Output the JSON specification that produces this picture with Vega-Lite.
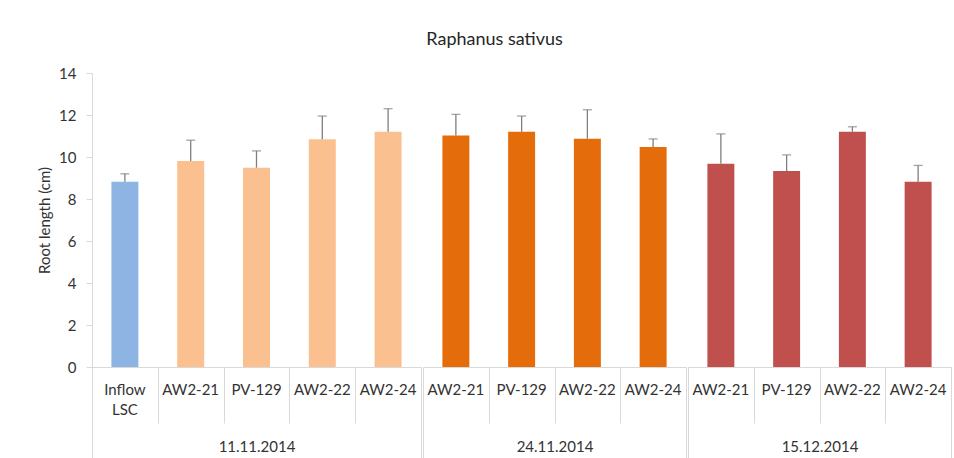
{
  "$schema": "https://vega.github.io/schema/vega-lite/v6.json",
  "padding": {"left": 37, "top": 31, "right": 5, "bottom": 0},
  "title": {"text": "Raphanus sativus", "anchor": "middle", "frame": "bounds", "fontSize": 18, "font": "Lato", "fontWeight": "normal", "color": "#262626", "offset": 17},
  "config": {
    "view": {"stroke": null},
    "font": "Lato",
    "axis": {"labelFont": "Lato", "titleFont": "Lato", "labelFontSize": 15, "titleFontSize": 15, "labelColor": "#333333", "titleColor": "#333333", "titleFontWeight": "normal", "grid": false}
  },
  "spacing": 0,
  "data": {"values": [
    {"group": "11.11.2014", "name": "Inflow LSC", "series": "Inflow", "mean": 8.82, "upper": 9.2},
    {"group": "11.11.2014", "name": "AW2-21", "series": "11.11.2014", "mean": 9.81, "upper": 10.8},
    {"group": "11.11.2014", "name": "PV-129", "series": "11.11.2014", "mean": 9.49, "upper": 10.29},
    {"group": "11.11.2014", "name": "AW2-22", "series": "11.11.2014", "mean": 10.84, "upper": 11.95},
    {"group": "11.11.2014", "name": "AW2-24", "series": "11.11.2014", "mean": 11.2, "upper": 12.3},
    {"group": "24.11.2014", "name": "AW2-21", "series": "24.11.2014", "mean": 11.02, "upper": 12.03},
    {"group": "24.11.2014", "name": "PV-129", "series": "24.11.2014", "mean": 11.2, "upper": 11.95},
    {"group": "24.11.2014", "name": "AW2-22", "series": "24.11.2014", "mean": 10.87, "upper": 12.25},
    {"group": "24.11.2014", "name": "AW2-24", "series": "24.11.2014", "mean": 10.48, "upper": 10.86},
    {"group": "15.12.2014", "name": "AW2-21", "series": "15.12.2014", "mean": 9.68, "upper": 11.1},
    {"group": "15.12.2014", "name": "PV-129", "series": "15.12.2014", "mean": 9.33, "upper": 10.1},
    {"group": "15.12.2014", "name": "AW2-22", "series": "15.12.2014", "mean": 11.2, "upper": 11.44},
    {"group": "15.12.2014", "name": "AW2-24", "series": "15.12.2014", "mean": 8.82, "upper": 9.6}
  ]},
  "resolve": {"scale": {"y": "shared", "color": "shared"}},
  "hconcat": [
    {
      "width": 329, "height": 294,
      "transform": [{"filter": "datum.group == '11.11.2014'"}],
      "resolve": {"axis": {"x": "independent"}},
      "layer": [
        {
          "mark": {"type": "bar", "width": {"band": 0.41}},
          "encoding": {
            "x": {"field": "name", "type": "nominal", "sort": null, "scale": {"paddingInner": 0, "paddingOuter": 0},
              "axis": {"orient": "bottom", "title": null, "ticks": false, "domain": true, "domainColor": "#d9d9d9", "labelAngle": 0, "labelPadding": 15, "labelLineHeight": 20, "labelExpr": "datum.label == 'Inflow LSC' ? ['Inflow', 'LSC'] : datum.label"}},
            "y": {"field": "mean", "type": "quantitative", "scale": {"domain": [0, 14]},
              "axis": {"title": "Root length (cm)", "values": [0, 2, 4, 6, 8, 10, 12, 14], "domainColor": "#d9d9d9", "tickColor": "#d9d9d9", "tickSize": 6, "labelPadding": 10, "titlePadding": 6}},
            "color": {"field": "series", "type": "nominal", "scale": {"domain": ["Inflow", "11.11.2014", "24.11.2014", "15.12.2014"], "range": ["#8DB4E2", "#FAC090", "#E46C0A", "#C0504D"]}, "legend": null}
          }
        },
        {
          "mark": {"type": "rule", "color": "#7f7f7f", "strokeWidth": 1.3},
          "encoding": {
            "x": {"field": "name", "type": "nominal", "sort": null,
              "axis": {"orient": "bottom", "title": null, "labels": false, "domain": false, "ticks": true, "tickBand": "extent", "tickSize": 56, "tickColor": "#d9d9d9"}},
            "y": {"field": "mean", "type": "quantitative",
              "axis": {"title": "Root length (cm)", "values": [0, 2, 4, 6, 8, 10, 12, 14], "domainColor": "#d9d9d9", "tickColor": "#d9d9d9", "tickSize": 6, "labelPadding": 10, "titlePadding": 6}},
            "y2": {"field": "upper"}
          }
        },
        {
          "mark": {"type": "tick", "color": "#7f7f7f", "thickness": 1.3, "size": 9},
          "encoding": {
            "x": {"field": "name", "type": "nominal", "sort": null,
              "axis": {"orient": "bottom", "title": "11.11.2014", "titleY": 79, "titleBaseline": "middle", "labels": false, "domain": false, "ticks": true, "tickBand": "extent", "tickSize": 92, "tickColor": "#d9d9d9",
                "tickOpacity": {"condition": {"test": "datum.index < 0 || datum.index == 1", "value": 1}, "value": 0}}},
            "y": {"field": "upper", "type": "quantitative",
              "axis": {"title": "Root length (cm)", "values": [0, 2, 4, 6, 8, 10, 12, 14], "domainColor": "#d9d9d9", "tickColor": "#d9d9d9", "tickSize": 6, "labelPadding": 10, "titlePadding": 6}}
          }
        }
      ]
    },
    {
      "width": 263, "height": 294,
      "transform": [{"filter": "datum.group == '24.11.2014'"}],
      "resolve": {"axis": {"x": "independent"}},
      "layer": [
        {
          "mark": {"type": "bar", "width": {"band": 0.41}},
          "encoding": {
            "x": {"field": "name", "type": "nominal", "sort": null, "scale": {"paddingInner": 0, "paddingOuter": 0},
              "axis": {"orient": "bottom", "title": null, "ticks": false, "domain": true, "domainColor": "#d9d9d9", "labelAngle": 0, "labelPadding": 15, "labelLineHeight": 20}},
            "y": {"field": "mean", "type": "quantitative", "scale": {"domain": [0, 14]}, "axis": null},
            "color": {"field": "series", "type": "nominal", "legend": null}
          }
        },
        {
          "mark": {"type": "rule", "color": "#7f7f7f", "strokeWidth": 1.3},
          "encoding": {
            "x": {"field": "name", "type": "nominal", "sort": null,
              "axis": {"orient": "bottom", "title": null, "labels": false, "domain": false, "ticks": true, "tickBand": "extent", "tickSize": 56, "tickColor": "#d9d9d9"}},
            "y": {"field": "mean", "type": "quantitative", "axis": null},
            "y2": {"field": "upper"}
          }
        },
        {
          "mark": {"type": "tick", "color": "#7f7f7f", "thickness": 1.3, "size": 9},
          "encoding": {
            "x": {"field": "name", "type": "nominal", "sort": null,
              "axis": {"orient": "bottom", "title": "24.11.2014", "titleY": 79, "titleBaseline": "middle", "labels": false, "domain": false, "ticks": true, "tickBand": "extent", "tickSize": 92, "tickColor": "#d9d9d9",
                "tickOpacity": {"condition": {"test": "datum.index < 0 || datum.index == 1", "value": 1}, "value": 0}}},
            "y": {"field": "upper", "type": "quantitative", "axis": null}
          }
        }
      ]
    },
    {
      "width": 263, "height": 294,
      "transform": [{"filter": "datum.group == '15.12.2014'"}],
      "resolve": {"axis": {"x": "independent"}},
      "layer": [
        {
          "mark": {"type": "bar", "width": {"band": 0.41}},
          "encoding": {
            "x": {"field": "name", "type": "nominal", "sort": null, "scale": {"paddingInner": 0, "paddingOuter": 0},
              "axis": {"orient": "bottom", "title": null, "ticks": false, "domain": true, "domainColor": "#d9d9d9", "labelAngle": 0, "labelPadding": 15, "labelLineHeight": 20}},
            "y": {"field": "mean", "type": "quantitative", "scale": {"domain": [0, 14]}, "axis": null},
            "color": {"field": "series", "type": "nominal", "legend": null}
          }
        },
        {
          "mark": {"type": "rule", "color": "#7f7f7f", "strokeWidth": 1.3},
          "encoding": {
            "x": {"field": "name", "type": "nominal", "sort": null,
              "axis": {"orient": "bottom", "title": null, "labels": false, "domain": false, "ticks": true, "tickBand": "extent", "tickSize": 56, "tickColor": "#d9d9d9"}},
            "y": {"field": "mean", "type": "quantitative", "axis": null},
            "y2": {"field": "upper"}
          }
        },
        {
          "mark": {"type": "tick", "color": "#7f7f7f", "thickness": 1.3, "size": 9},
          "encoding": {
            "x": {"field": "name", "type": "nominal", "sort": null,
              "axis": {"orient": "bottom", "title": "15.12.2014", "titleY": 79, "titleBaseline": "middle", "labels": false, "domain": false, "ticks": true, "tickBand": "extent", "tickSize": 92, "tickColor": "#d9d9d9",
                "tickOpacity": {"condition": {"test": "datum.index < 0 || datum.index == 1", "value": 1}, "value": 0}}},
            "y": {"field": "upper", "type": "quantitative", "axis": null}
          }
        }
      ]
    }
  ]
}
